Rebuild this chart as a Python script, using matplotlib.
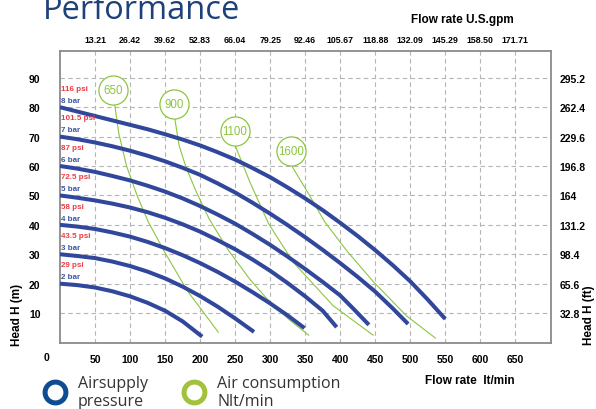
import matplotlib
matplotlib.use("Agg")
import matplotlib.pyplot as plt
from matplotlib.lines import Line2D

# pump curves: flow (lt/min) vs head (m) for each air supply pressure
pressure_bar = ["8 bar", "7 bar", "6 bar", "5 bar", "4 bar", "3 bar", "2 bar"]
pressure_psi = ["116 psi", "101.5 psi", "87 psi", "72.5 psi", "58 psi", "43.5 psi", "29 psi"]

flow_8 = [0, 25, 50, 75, 100, 125, 150, 175, 200, 225, 250, 275, 300, 325, 350, 375,
          400, 425, 450, 475, 500, 525, 550]
head_8 = [80, 78.5, 77, 75.5, 74, 72.5, 70.8, 69, 67, 64.7, 62.2, 59.3, 56.2, 52.7, 49, 45,
          40.7, 36.2, 31.4, 26.3, 20.8, 14.6, 8]
flow_7 = [0, 25, 50, 75, 100, 125, 150, 175, 200, 225, 250, 275, 300, 325, 350, 375,
          400, 425, 450, 475, 497]
head_7 = [70, 69.1, 68, 66.7, 65.2, 63.5, 61.6, 59.4, 57, 54.1, 51, 47.5, 43.8, 39.9, 35.8,
          31.5, 27, 22.3, 17.3, 11.6, 6.3]
flow_6 = [0, 25, 50, 75, 100, 125, 150, 175, 200, 225, 250, 275, 300, 325, 350, 375,
          400, 420, 441]
head_6 = [60, 59.1, 58, 56.6, 55.1, 53.3, 51.3, 49, 46.4, 43.5, 40.4, 36.9, 33.2, 29.2, 25,
          20.6, 16, 11.2, 6]
flow_5 = [0, 25, 50, 75, 100, 125, 150, 175, 200, 225, 250, 275, 300, 325, 350, 375, 395]
head_5 = [50, 49.2, 48.3, 47.2, 45.9, 44.3, 42.4, 40.2, 37.7, 34.8, 31.7, 28.2, 24.4, 20.2,
          15.7, 10.8, 5.2]
flow_4 = [0, 25, 50, 75, 100, 125, 150, 175, 200, 225, 250, 275, 300, 325, 349]
head_4 = [40, 39.4, 38.6, 37.4, 36, 34.2, 32.1, 29.7, 27, 24, 20.7, 17.1, 13.3, 9.2, 4.9]
flow_3 = [0, 25, 50, 75, 100, 125, 150, 175, 200, 225, 250, 277]
head_3 = [30, 29.4, 28.7, 27.5, 26, 24.1, 21.8, 19, 15.8, 12.2, 8.2, 3.6]
flow_2 = [0, 25, 50, 75, 100, 125, 150, 175, 203]
head_2 = [20, 19.5, 18.7, 17.4, 15.7, 13.5, 10.8, 7.2, 2]

# air consumption lines (Nlt/min)
air_labels = ["650", "900", "1100", "1600"]
air_650_flow = [78, 84, 95, 110, 126, 150, 182, 226]
air_650_head = [81, 71, 60, 50, 41, 30.5, 17.5, 3.5]
air_900_flow = [164, 170, 180, 195, 213, 240, 271, 295, 326, 355]
air_900_head = [76, 67, 59.5, 51, 42, 31.5, 21.5, 15, 8, 2.5]
air_1100_flow = [250, 271, 298, 333, 390, 447]
air_1100_head = [67, 54.6, 40.3, 27.3, 12.5, 2.5]
air_1600_flow = [331, 355, 378, 410, 448, 495, 536]
air_1600_head = [60, 50.5, 41, 31, 20.5, 9, 1.5]
air_tag_flow = [76, 163, 250, 330]
air_tag_head = [86, 81, 72, 65]

flow_ticks = [50, 100, 150, 200, 250, 300, 350, 400, 450, 500, 550, 600, 650]
gpm_labels = ["13.21", "26.42", "39.62", "52.83", "66.04", "79.25", "92.46",
              "105.67", "118.88", "132.09", "145.29", "158.50", "171.71"]
head_ticks = [10, 20, 30, 40, 50, 60, 70, 80, 90]
ft_labels = ["32.8", "65.6", "98.4", "131.2", "164", "196.8", "229.6", "262.4", "295.2"]

BLUE = "#31479c"
GREEN = "#8cc63f"
RED = "#ee3a43"
LBLUE = "#3e55a5"
NAVY = "#1d4178"

plt.rcParams['font.family'] = ['Liberation Sans', 'DejaVu Sans']

fig = plt.figure(figsize=(5.96, 4.10), dpi=100)
ax = fig.add_axes([60 / 596, 1 - 343.5 / 410, 491 / 596, 291.5 / 410])
ax.set_xlim(0, 701)
ax.set_ylim(0, 99.1)

ax.grid(True, linestyle=(0, (4, 3)), color="#b5b5b5", linewidth=0.8)
ax.set_axisbelow(True)
for s in ax.spines.values():
    s.set_color("#8a8a8a")
    s.set_linewidth(1.3)

curves = [(flow_8, head_8), (flow_7, head_7), (flow_6, head_6), (flow_5, head_5),
          (flow_4, head_4), (flow_3, head_3), (flow_2, head_2)]
for (f, h), bar, psi in zip(curves, pressure_bar, pressure_psi):
    ax.plot(f, h, color=BLUE, lw=2.9, solid_capstyle="butt", solid_joinstyle="round",
            zorder=3)
    ax.text(2, h[0] + 2.3, bar, color=LBLUE, fontsize=5.8, fontweight="bold",
            va="center", ha="left")
    ax.text(2, h[0] + 6.4, psi, color=RED, fontsize=5.8, fontweight="bold",
            va="center", ha="left")

airs = [(air_650_flow, air_650_head), (air_900_flow, air_900_head),
        (air_1100_flow, air_1100_head), (air_1600_flow, air_1600_head)]
for f, h in airs:
    ax.plot(f, h, color=GREEN, lw=0.8, zorder=2)
ax.scatter(air_tag_flow, air_tag_head, s=440, facecolor="white",
           edgecolor=GREEN, linewidth=0.9, zorder=4)
for x, y, t in zip(air_tag_flow, air_tag_head, air_labels):
    ax.text(x, y, t, color=GREEN, fontsize=8.3, ha="center", va="center", zorder=5)

ax.set_xticks(flow_ticks)
ax.set_xticklabels([str(v) for v in flow_ticks])
ax.set_yticks(head_ticks)
ax.tick_params(length=0, labelsize=7.5, pad=8)
for lab in ax.get_xticklabels() + ax.get_yticklabels():
    lab.set_fontweight("bold")
ax.tick_params(axis="y", pad=14)
ax.text(-19, -4.9, "0", fontsize=7.5, fontweight="bold", ha="center", va="center",
        clip_on=False)

ax_r = ax.twinx()
ax_r.set_ylim(ax.get_ylim())
ax_r.set_yticks(head_ticks)
ax_r.set_yticklabels(ft_labels, fontsize=7.5, fontweight="bold")
ax_r.tick_params(length=0, pad=6)
for s in ax_r.spines.values():
    s.set_visible(False)

top = ax.secondary_xaxis("top")
top.set_xticks(flow_ticks)
top.set_xticklabels(gpm_labels, fontsize=6.3, fontweight="bold")
top.tick_params(length=0, pad=5)
top.spines["top"].set_visible(False)

fig.text(462 / 596, 1 - 20 / 410, "Flow rate U.S.gpm", fontsize=8.5, fontweight="bold",
         ha="center", va="center")
fig.text(470 / 596, 1 - 381 / 410, "Flow rate  lt/min", fontsize=8.5, fontweight="bold",
         ha="center", va="center")
fig.text(17 / 596, 1 - 315 / 410, "Head H (m)", fontsize=8.5, fontweight="bold",
         rotation=90, ha="center", va="center")
fig.text(589 / 596, 1 - 315 / 410, "Head H (ft)", fontsize=8.5, fontweight="bold",
         rotation=90, ha="center", va="center")

fig.text(43 / 596, 1 - 19 / 410, "Performance", fontsize=23.5, color=NAVY,
         family="Open Sans", ha="left", va="baseline")

handles = [Line2D([], [], ls="none", marker="o", ms=15, mfc="none", mec="#0f4c90", mew=3.6),
           Line2D([], [], ls="none", marker="o", ms=15, mfc="none", mec="#a3c23b", mew=3.6)]
fig.legend(handles, ["Airsupply\npressure", "Air consumption\nNlt/min"],
           loc="center left", bbox_to_anchor=(42 / 596, 1 - 393 / 410), ncol=2,
           frameon=False, borderpad=0, borderaxespad=0, handlelength=1.6,
           handletextpad=0.65, columnspacing=2.1,
           prop={"family": "Open Sans", "size": 11.5}, labelcolor="#333333")

fig.savefig("out.png", dpi=100)
